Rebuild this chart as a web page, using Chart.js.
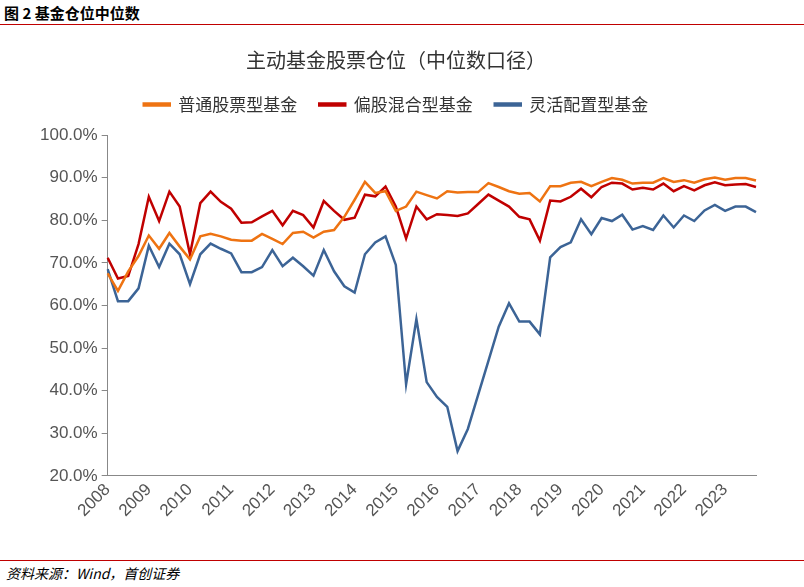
<!DOCTYPE html>
<html>
<head>
<meta charset="utf-8">
<script src="https://cdn.jsdelivr.net/npm/chart.js@4.4.0/dist/chart.umd.min.js"></script>
<style>
  body { margin: 0; background: #fff; font-family: "Noto Sans CJK SC", sans-serif; }
  #head { position: absolute; left: 4px; top: 2px; font-size: 15px; font-weight: bold; color: #000; }
  #topline { position: absolute; left: 0; top: 24px; width: 804px; height: 1px; background: #c00000; }
  #foot { position: absolute; left: 0; top: 560px; width: 804px; height: 1px; background: #c00000; }
  #src { position: absolute; left: 6px; top: 563px; font-size: 14px; font-style: italic; color: #000; }
  #box { position: absolute; left: 0; top: 30px; width: 804px; height: 525px; }
</style>
</head>
<body>
<div id="head">图 2 基金仓位中位数</div>
<div id="topline"></div>
<div id="box"><canvas id="myChart"></canvas></div>
<div id="foot"></div>
<div id="src">资料来源：Wind，首创证券</div>
<script>
// 季度数据 2008Q1 - 2023Q4
const years = ['2008','2009','2010','2011','2012','2013','2014','2015','2016','2017','2018','2019','2020','2021','2022','2023'];
const stockFund = [67.5,63.4,68,71.6,76.4,73.3,77,73.8,70.8,76.2,76.8,76.2,75.4,75.2,75.2,76.8,75.6,74.4,77,77.3,75.9,77.3,77.7,80.8,84.8,89,86.4,86.8,82.2,83.2,86.7,
  85.9,85.1,86.8,86.5,86.6,86.6,88.7,87.8,86.8,86.2,86.4,84.4,88,88,88.8,89,88,89,89.9,89.5,88.6,88.8,88.8,89.9,89,89.4,88.8,89.6,90,89.5,89.9,89.9,89.3];
const mixedFund = [71.2,66.3,66.9,74.4,85.5,79.8,86.7,83.2,72,84,86.7,84.3,82.7,79.4,79.5,80.9,82.2,78.8,82.2,81.2,78.3,84.5,82.2,80.1,80.6,86,85.6,87.9,83.2,75.7,83.2,
  80.2,81.4,81.2,81,81.6,83.8,86,84.6,83.2,80.8,80.2,75.2,84.6,84.4,85.5,87.4,85.4,87.8,88.8,88.6,87.2,87.6,87.2,88.6,86.8,88,87,88.2,88.9,88.2,88.4,88.5,87.8];
const flexFund = [68.5,61,61,64,74,69,74.5,72,65,72,74.5,73.3,72.2,67.8,67.8,69,73,69.2,71.2,69.2,67,73,68,64.5,63,72,74.8,76.2,69.5,41.5,56.8,
  42,38.5,36.2,25.8,31,39,47,55,60.5,56.2,56.2,53.2,71.3,73.7,74.8,80.2,76.7,80.5,79.8,81.3,77.8,78.6,77.7,81.1,78.3,81.1,79.8,82.3,83.6,82.2,83.2,83.2,81.9];

const labels = stockFund.map(function (v, i) {
    return i % 4 === 0 ? years[i / 4] : '';
});

function line(label, data, color) {
    return { label: label, data: data, borderColor: color, backgroundColor: color,
        borderWidth: 2.5, pointRadius: 0, tension: 0, fill: false };
}

// 图例下方留一点空隙
const legendGap = {
    id: 'legendGap',
    beforeInit: function (chart) {
        const fit = chart.legend.fit;
        chart.legend.fit = function () {
            fit.bind(chart.legend)();
            this.height += 12;
        };
    }
};

const ctx = document.getElementById('myChart').getContext('2d');
new Chart(ctx, {
    type: 'line',
    data: {
        labels: labels,
        datasets: [
            line('普通股票型基金', stockFund, '#ee7312'),
            line('偏股混合型基金', mixedFund, '#c00000'),
            line('灵活配置型基金', flexFund, '#3c6496')
        ]
    },
    plugins: [legendGap],
    options: {
        responsive: true,
        maintainAspectRatio: false,
        animation: false,
        layout: { padding: { left: 36, right: 48, top: 0, bottom: 30 } },
        scales: {
            x: {
                offset: false,
                grid: { display: false, drawTicks: false },
                border: { color: '#888' },
                ticks: { autoSkip: false, maxRotation: 45, minRotation: 45, color: '#555',
                    font: { size: 17, family: 'Liberation Sans' }, padding: 4 }
            },
            y: {
                min: 20, max: 100,
                grid: { display: true, drawOnChartArea: false, drawTicks: true, tickLength: 6, color: '#888' },
                border: { color: '#888' },
                ticks: { stepSize: 10, color: '#555', font: { size: 17, family: 'Liberation Sans' }, padding: 4,
                    callback: function (v) { return v.toFixed(1) + '%'; } }
            }
        },
        plugins: {
            title: { display: true, text: '主动基金股票仓位（中位数口径）', color: '#333',
                font: { size: 20, family: 'Noto Sans CJK SC', weight: 'normal' }, padding: { top: 18, bottom: 2 } },
            legend: { display: true, position: 'top',
                labels: { boxWidth: 26, boxHeight: 2, color: '#333', padding: 22,
                    font: { size: 17, family: 'Noto Sans CJK SC' } } },
            tooltip: { enabled: false }
        }
    }
});
</script>
</body>
</html>
